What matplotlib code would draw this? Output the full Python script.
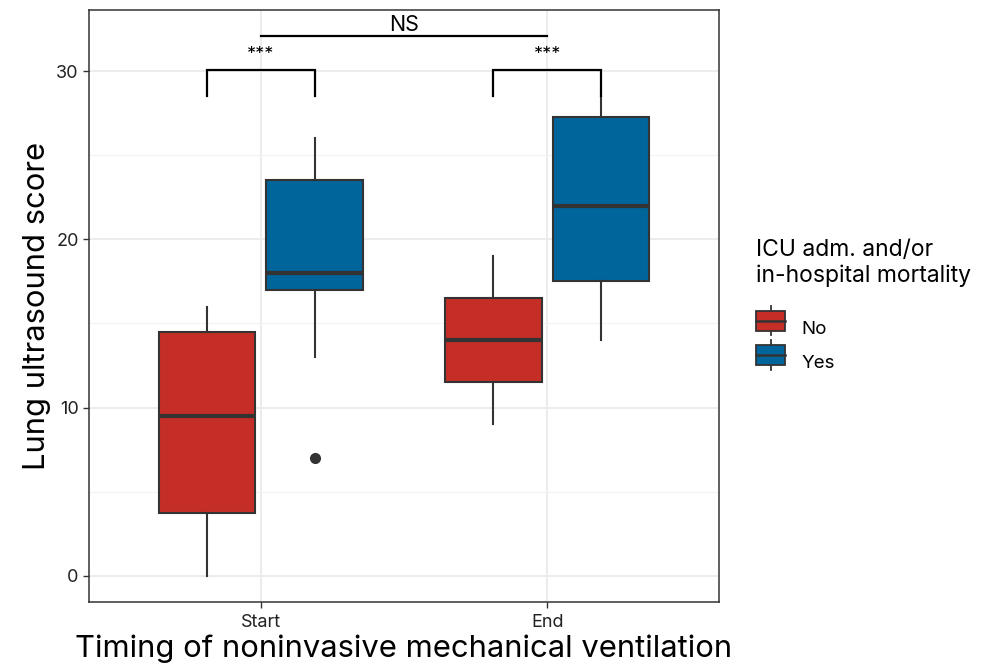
import matplotlib.pyplot as plt
from matplotlib.legend_handler import HandlerBase
from matplotlib.patches import Rectangle, Patch
from matplotlib.lines import Line2D

plt.rcParams['font.family'] = ['Inter', 'DejaVu Sans']

# data
timings = ['Start', 'End']
groups = ['No', 'Yes']
colors = ['#C52E27', '#00659A']
# per group, per timing: (whislo, q1, med, q3, whishi)
box_no = [(0, 3.75, 9.5, 14.5, 16), (9, 11.5, 14, 16.5, 19)]
box_yes = [(13, 17, 18, 23.5, 26), (14, 17.5, 22, 27.25, 28.5)]
outliers_no = [[], []]
outliers_yes = [[7], []]

# significance brackets: x1, x2 (timing index + group offset), y, leg bottom, label
br_x1 = [-0.1875, 0.8125, 0.0]
br_x2 = [0.1875, 1.1875, 1.0]
br_y = [30.05, 30.05, 32.1]
br_leg = [28.5, 28.5, 32.1]
br_lab = ['***', '***', 'NS']

fig = plt.figure(figsize=(9.89, 6.72), dpi=100)
ax = fig.add_axes([0.09, 0.1042, 0.637, 0.881])

offs = [-0.1875, 0.1875]
width = 0.3375
for g, (boxes, outs) in enumerate([(box_no, outliers_no), (box_yes, outliers_yes)]):
    stats = []
    for b, o in zip(boxes, outs):
        stats.append(dict(whislo=b[0], q1=b[1], med=b[2], q3=b[3], whishi=b[4], fliers=o))
    pos = [i + offs[g] for i in range(len(timings))]
    ax.bxp(stats, positions=pos, widths=width, patch_artist=True, showcaps=False,
           boxprops=dict(facecolor=colors[g], edgecolor='#333333', linewidth=1.5),
           medianprops=dict(color='#333333', linewidth=3),
           whiskerprops=dict(color='#333333', linewidth=1.5),
           flierprops=dict(marker='o', markerfacecolor='#333333', markeredgecolor='#333333',
                           markersize=7), zorder=3)

for x1, x2, y, leg, lab in zip(br_x1, br_x2, br_y, br_leg, br_lab):
    ax.plot([x1, x1, x2, x2], [leg, y, y, leg], color='black', lw=1.6, zorder=5,
            solid_joinstyle='miter')
    if lab == 'NS':
        ax.text((x1 + x2) / 2, y + 0.02, lab, ha='center', va='bottom', fontsize=15.5)
    else:
        ax.text((x1 + x2) / 2, y + 0.4, lab, ha='center', va='bottom', fontsize=13)

ax.set_xlim(-0.6, 1.6)
ax.set_ylim(-1.55, 33.63)
ax.set_xticks(range(len(timings)))
ax.set_xticklabels(timings)
ax.set_yticks([0, 10, 20, 30])
ax.set_yticks([5, 15, 25], minor=True)
ax.grid(True, which='major', color='#EBEBEB', lw=1.3, zorder=0)
ax.grid(True, which='minor', axis='y', color='#F3F3F3', lw=0.8, zorder=0)
ax.set_axisbelow(True)
ax.tick_params(axis='both', which='major', length=4, width=1, color='#333333',
               labelsize=13, labelcolor='#222222')
ax.tick_params(axis='x', which='major', pad=5)
ax.tick_params(axis='y', which='minor', length=0)
for s in ax.spines.values():
    s.set_color('#333333')
    s.set_linewidth(1.1)
ax.set_xlabel('Timing of noninvasive mechanical ventilation', fontsize=22.3, labelpad=2)
ax.set_ylabel('Lung ultrasound score', fontsize=22.3, labelpad=4)


class BoxKey(HandlerBase):
    def create_artists(self, legend, orig, xd, yd, w, h, fs, trans):
        cx = xd + w / 2
        line = Line2D([cx, cx], [yd - 0.25 * h, yd + 1.25 * h], color='#333333', lw=1.3, transform=trans)
        rect = Rectangle((xd, yd), w, h, facecolor=orig.get_facecolor(), edgecolor='#333333',
                         lw=1.3, transform=trans)
        med = Line2D([xd, xd + w], [yd + h / 2, yd + h / 2], color='#333333', lw=1.8, transform=trans)
        return [line, rect, med]


handles = [Patch(facecolor=c, label=l) for c, l in zip(colors, groups)]
leg = fig.legend(handles=handles, labels=groups, handler_map={Patch: BoxKey()},
                 title='ICU adm. and/or\nin-hospital mortality', loc='upper left',
                 bbox_to_anchor=(0.757, 0.655), frameon=False, fontsize=13.5,
                 title_fontsize=16.5, handlelength=1.55, handleheight=1.25, labelspacing=0.75,
                 handletextpad=0.85, borderaxespad=0)
leg._legend_box.align = 'left'
leg._legend_box.sep = 22

fig.savefig('out.png', dpi=100)
